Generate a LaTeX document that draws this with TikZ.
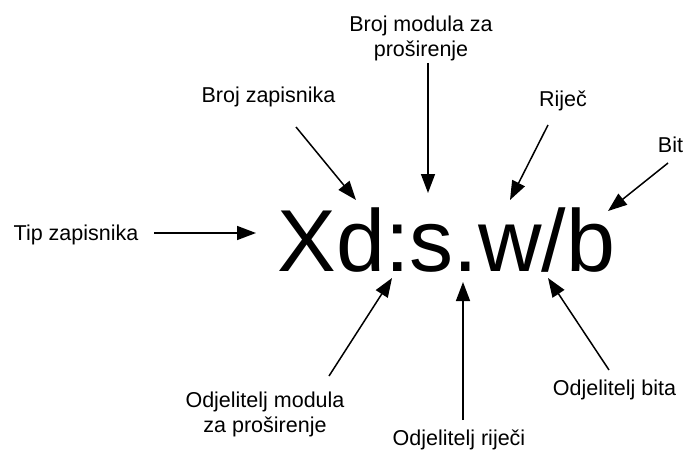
\documentclass[tikz,border=0pt]{standalone}
\usepackage{fontspec}
\setmainfont{Liberation Sans}
\usetikzlibrary{arrows.meta}
\begin{document}
\begin{tikzpicture}[x=1pt,y=-1pt,
  label/.style={inner sep=0pt,anchor=base,align=center,
    font=\fontsize{21.5}{25}\selectfont},
  arr/.style={line width=1.5pt,-{Triangle[length=19pt,width=14pt]}}]
\useasboundingbox (0,0) rectangle (684,457);
% the format string
\node[inner sep=0pt,anchor=base west,font=\fontsize{88}{100}\selectfont]
  (fmt) at (277.5,271) {Xd:s.w/b};
% labels (two-line labels are placed by the baseline of their last line)
\node[label] (tip)  at (76,240)    {Tip zapisnika};
\node[label] (bz)   at (268.5,103) {Broj zapisnika};
\node[label] (bm)   at (421,57)    {Broj modula za\\pro\v{s}irenje};
\node[label] (rij)  at (563,107)   {Rije\v{c}};
\node[label] (bit)  at (670.5,153) {Bit};
\node[label] (om)   at (265,432)   {Odjelitelj modula\\za pro\v{s}irenje};
\node[label] (or)   at (459,445)   {Odjelitelj rije\v{c}i};
\node[label] (ob)   at (614.5,395) {Odjelitelj bita};
% arrow ends
\coordinate (tipS) at (154,233);  \coordinate (tipE) at (256,233);
\coordinate (bzS)  at (296,127);  \coordinate (bzE)  at (356,200);
\coordinate (bmS)  at (428,63);   \coordinate (bmE)  at (428,193);
\coordinate (rijS) at (548,125);  \coordinate (rijE) at (510,200);
\coordinate (bitS) at (668,163);  \coordinate (bitE) at (608,211);
\coordinate (omS)  at (329,376);  \coordinate (omE)  at (392,278);
\coordinate (orS)  at (463,420);  \coordinate (orE)  at (463,282);
\coordinate (obS)  at (609,370);  \coordinate (obE)  at (548,278);
\foreach \a in {tip,bz,bm,rij,bit,om,or,ob}
  \draw[arr] (\a S) -- (\a E);
\end{tikzpicture}
\end{document}
